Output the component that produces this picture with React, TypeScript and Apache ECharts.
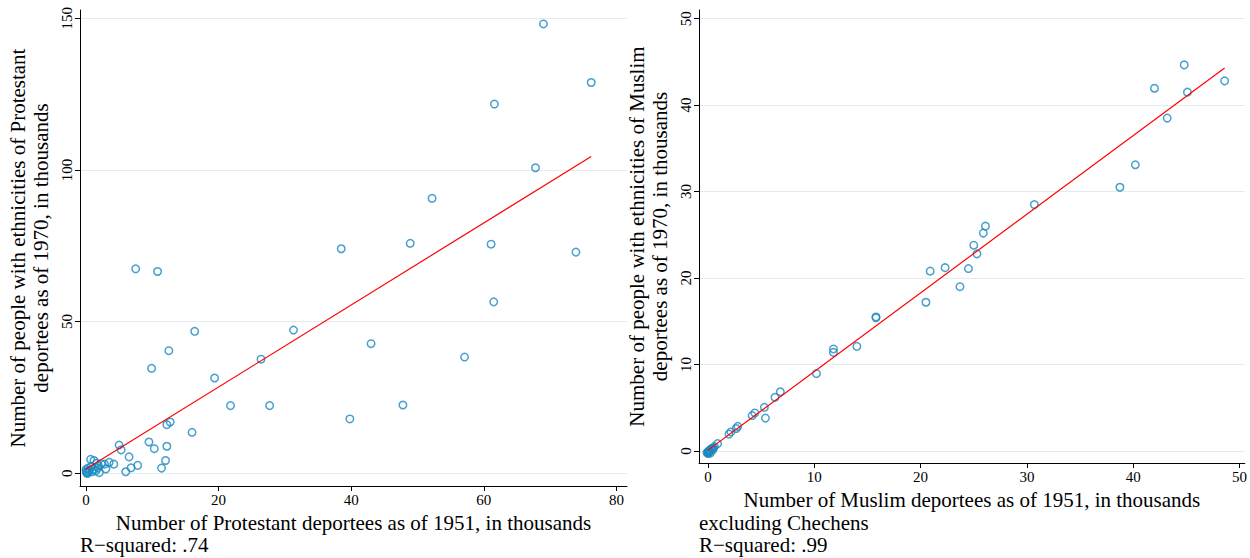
import React, { useEffect, useRef } from "react";
import * as echarts from "echarts";

// Left panel: Protestant deportees (x) vs. people with these ethnicities in 1970 (y), thousands
const protestantX = [
  69.0, 76.2, 61.6, 67.8, 52.2, 48.9, 61.1, 38.5, 73.9, 61.5,
  7.5, 10.8, 16.4, 31.3, 43.0, 12.5, 26.4, 57.1, 9.9, 19.4,
  21.8, 27.7, 47.8, 39.8, 12.7, 12.2, 16.0, 5.0, 5.3, 9.5,
  10.3, 12.2, 6.5, 12.0, 7.8, 6.8, 6.0, 11.4, 4.2, 3.5,
  3.0, 2.8, 1.9, 2.0, 1.2, 0.7, 0.3, 0.05, 0.55, 1.2,
  0.8, 1.8, 0.2, 0.1, 0.4, 0.0, 0.9, 1.5, 2.3, 1.6,
];
const protestantY = [
  148.1, 128.8, 121.7, 100.7, 90.6, 75.8, 75.5, 74.0, 72.9, 56.5,
  67.4, 66.5, 46.8, 47.2, 42.7, 40.4, 37.6, 38.3, 34.6, 31.4,
  22.3, 22.3, 22.5, 17.9, 16.9, 16.0, 13.5, 9.3, 7.7, 10.3,
  8.1, 8.9, 5.4, 4.2, 2.6, 1.8, 0.5, 1.7, 3.0, 3.6,
  1.4, 3.0, 2.4, 0.2, 4.2, 4.6, 1.7, 0.6, 1.0, 1.3,
  2.2, 1.7, -0.1, 0.2, 0.4, 1.2, 0.5, 0.8, 3.1, 3.3,
];
const protestantFitX = [0.0, 76.2];
const protestantFitY = [1.4, 104.4];

// Right panel: Muslim deportees excluding Chechens
const muslimX = [
  48.6, 44.8, 45.1, 42.0, 43.2, 40.2, 38.75, 30.7, 26.1, 25.9,
  25.0, 25.3, 24.5, 22.3, 20.9, 23.7, 20.5, 15.8, 15.8, 14.0,
  11.8, 11.8, 10.2, 6.8, 6.3, 5.3, 5.4, 4.4, 4.15, 2.8,
  2.65, 2.15, 1.97, 0.9, 0.6, 0.5, 0.4, 0.3, 0.2, 0.15,
  0.1, 0.05, 0.02, 0.0, 0.3, 0.1, -0.1, 0.0, 0.2, 0.45,
];
const muslimY = [
  42.8, 44.65, 41.5, 41.95, 38.5, 33.1, 30.5, 28.5, 26.0, 25.2,
  23.8, 22.8, 21.1, 21.2, 20.8, 19.0, 17.2, 15.5, 15.4, 12.1,
  11.8, 11.4, 8.95, 6.85, 6.2, 5.05, 3.8, 4.4, 4.1, 2.85,
  2.6, 2.2, 1.95, 0.85, 0.5, 0.35, 0.3, 0.2, 0.1, 0.05,
  0.0, -0.05, -0.1, -0.15, 0.25, -0.1, -0.2, -0.3, -0.25, 0.1,
];
const muslimFitX = [0.0, 48.6];
const muslimFitY = [0.1, 44.3];

const leftXTicks = [0, 20, 40, 60, 80];
const leftYTicks = [0, 50, 100, 150];
const rightXTicks = [0, 10, 20, 30, 40, 50];
const rightYTicks = [0, 10, 20, 30, 40, 50];

const FONT = "'Liberation Serif', 'Times New Roman', serif";
const MARKER = "#1a8ac0";
const GRID = "#e3edf0";

const zip = (xs: number[], ys: number[]) => xs.map((x, i) => [x, ys[i]]);

function axisBase(ticks: number[]) {
  return {
    type: "value" as const,
    axisLine: { show: true, onZero: false, lineStyle: { color: "#000", width: 1 } },
    axisTick: { show: true, length: 5, customValues: ticks, lineStyle: { color: "#000", width: 1 } },
    axisLabel: { customValues: ticks, color: "#000", fontFamily: FONT, fontSize: 15, margin: 6 },
    splitLine: { show: false },
    nameLocation: "middle" as const,
    nameTextStyle: { fontFamily: FONT, fontSize: 21, color: "#000", lineHeight: 23 },
  };
}

export default function App() {
  const ref = useRef<HTMLDivElement>(null);
  useEffect(() => {
    if (!ref.current) return;
    const chart = echarts.init(ref.current, undefined, { renderer: "svg" });
    const scatterStyle = {
      color: "rgba(0,0,0,0)",
      borderColor: MARKER,
      borderWidth: 1.5,
    };
    chart.setOption({
      animation: false,
      backgroundColor: "#fff",
      grid: [
        { left: 80, top: 10, width: 547, height: 476 },
        { left: 699, top: 10, width: 546, height: 453 },
      ],
      xAxis: [
        {
          ...axisBase(leftXTicks),
          gridIndex: 0,
          min: -0.9,
          max: 81.6,
          name: "Number of Protestant deportees as of 1951, in thousands",
          nameGap: 22,
        },
        {
          ...axisBase(rightXTicks),
          gridIndex: 1,
          min: -0.85,
          max: 50.5,
          name: "Number of Muslim deportees as of 1951, in thousands",
          nameGap: 22,
        },
      ],
      yAxis: [
        {
          ...axisBase(leftYTicks),
          gridIndex: 0,
          min: -4.2,
          max: 152.7,
          axisLabel: { ...axisBase(leftYTicks).axisLabel, rotate: 90 },
          splitLine: { show: true, lineStyle: { color: GRID, width: 1 } },
          name: "Number of people with ethnicities of Protestant\ndeportees as of 1970, in thousands",
          nameGap: 28,
        },
        {
          ...axisBase(rightYTicks),
          gridIndex: 1,
          min: -1.39,
          max: 51.0,
          axisLabel: { ...axisBase(rightYTicks).axisLabel, rotate: 90 },
          splitLine: { show: true, lineStyle: { color: GRID, width: 1 } },
          name: "Number of people with ethnicities of Muslim\ndeportees as of 1970, in thousands",
          nameGap: 28,
        },
      ],
      series: [
        {
          type: "scatter",
          xAxisIndex: 0,
          yAxisIndex: 0,
          data: zip(protestantX, protestantY),
          symbol: "circle",
          symbolSize: 7.5,
          itemStyle: scatterStyle,
        },
        {
          type: "line",
          xAxisIndex: 0,
          yAxisIndex: 0,
          data: zip(protestantFitX, protestantFitY),
          symbol: "none",
          lineStyle: { color: "#ff0000", width: 1.2 },
          z: 3,
        },
        {
          type: "scatter",
          xAxisIndex: 1,
          yAxisIndex: 1,
          data: zip(muslimX, muslimY),
          symbol: "circle",
          symbolSize: 7.5,
          itemStyle: scatterStyle,
        },
        {
          type: "line",
          xAxisIndex: 1,
          yAxisIndex: 1,
          data: zip(muslimFitX, muslimFitY),
          symbol: "none",
          lineStyle: { color: "#ff0000", width: 1.2 },
          z: 3,
        },
      ],
      graphic: [
        {
          type: "text",
          x: 80,
          y: 545,
          style: { text: "R\u2212squared: .74", fontFamily: FONT, fontSize: 21, fill: "#000", align: "left", verticalAlign: "middle" },
        },
        {
          type: "text",
          x: 699,
          y: 523,
          style: { text: "excluding Chechens", fontFamily: FONT, fontSize: 21, fill: "#000", align: "left", verticalAlign: "middle" },
        },
        {
          type: "text",
          x: 699,
          y: 545,
          style: { text: "R\u2212squared: .99", fontFamily: FONT, fontSize: 21, fill: "#000", align: "left", verticalAlign: "middle" },
        },
      ],
    });
    return () => chart.dispose();
  }, []);
  return (
    <div
      ref={ref}
      style={{ position: "absolute", left: 0, top: 0, width: 1250, height: 558 }}
    />
  );
}
